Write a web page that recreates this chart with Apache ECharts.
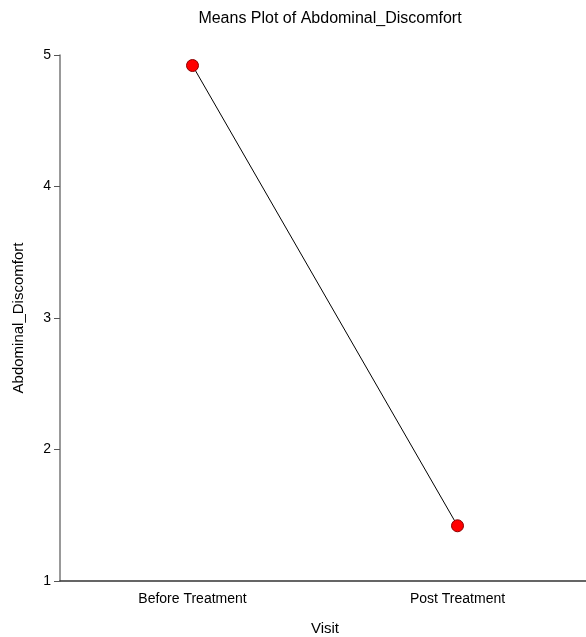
<!DOCTYPE html>
<html>
<head>
<meta charset="utf-8">
<script src="https://cdn.jsdelivr.net/npm/echarts@6/dist/echarts.min.js"></script>
<style>html,body{margin:0;padding:0;background:#fff;overflow:hidden}#c{width:586px;height:637px}</style>
</head>
<body>
<div id="c"></div>
<script>
const categories = ['Before Treatment', 'Post Treatment'];
const meanValues = [4.92, 1.42];
const yTicks = [1, 2, 3, 4, 5];

const font = 'Liberation Sans, Arial, sans-serif';
const chart = echarts.init(document.getElementById('c'), null, {renderer: 'canvas', width: 586, height: 637});
chart.setOption({
  animation: false,
  backgroundColor: '#fff',
  title: {
    text: 'Means Plot of Abdominal_Discomfort',
    left: 325, top: 6, textAlign: 'center',
    textStyle: {fontFamily: font, fontSize: 16, fontWeight: 'normal', color: '#000'}
  },
  grid: {left: 60, width: 530, top: 55, height: 526, containLabel: false, outerBoundsMode: 'none'},
  xAxis: {
    type: 'category',
    data: categories,
    boundaryGap: true,
    name: 'Visit',
    nameLocation: 'middle',
    nameGap: 40,
    nameTextStyle: {fontFamily: font, fontSize: 15, color: '#000'},
    axisLine: {lineStyle: {color: '#333', width: 1.5}},
    axisTick: {alignWithLabel: true, length: 6, lineStyle: {color: '#555'}},
    axisLabel: {fontFamily: font, fontSize: 14, color: '#000', margin: 11},
    splitLine: {show: false}
  },
  yAxis: {
    type: 'value',
    min: yTicks[0], max: yTicks[yTicks.length - 1], interval: 1,
    name: 'Abdominal_Discomfort',
    nameLocation: 'middle',
    nameGap: 34,
    nameTextStyle: {fontFamily: font, fontSize: 15, color: '#000'},
    axisLine: {show: true, lineStyle: {color: '#777', width: 1.5}},
    axisTick: {show: true, length: 6, lineStyle: {color: '#555'}},
    axisLabel: {fontFamily: font, fontSize: 14, color: '#000', margin: 9},
    splitLine: {show: false}
  },
  series: [{
    type: 'line',
    data: meanValues,
    symbol: 'circle',
    symbolSize: 12,
    itemStyle: {color: '#ff0000', borderColor: '#8b0000', borderWidth: 1},
    lineStyle: {color: '#000', width: 1}
  }]
});
</script>
</body>
</html>
